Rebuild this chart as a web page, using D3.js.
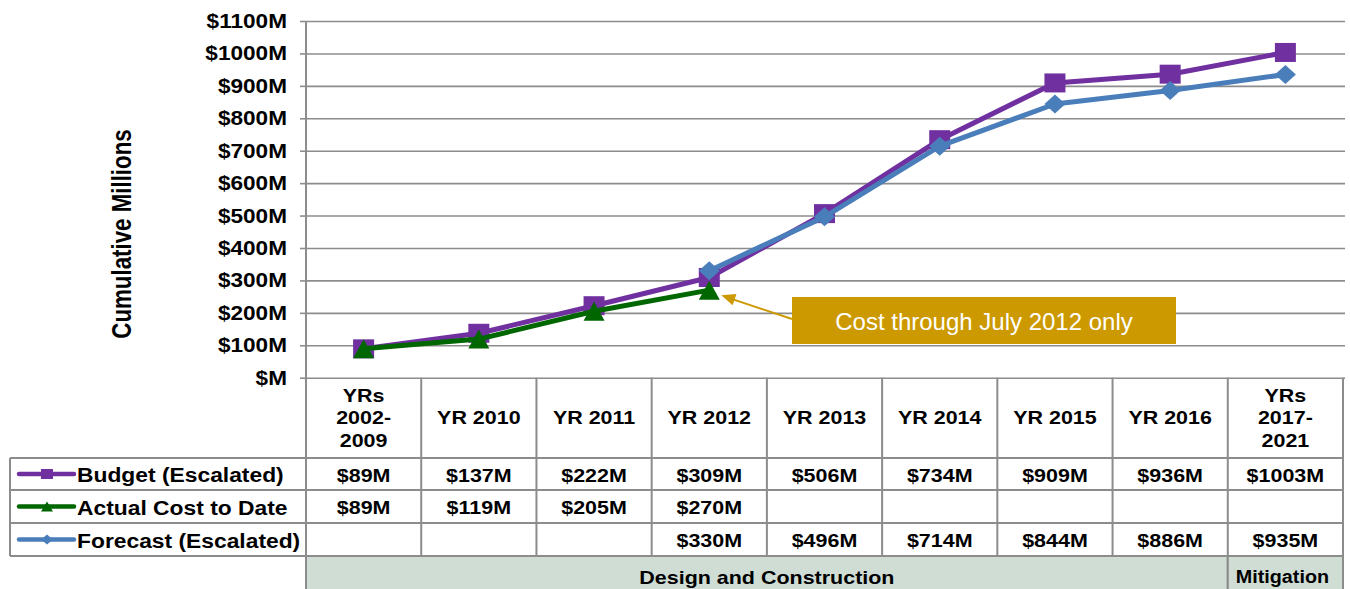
<!DOCTYPE html>
<html><head><meta charset="utf-8">
<script src="https://cdn.jsdelivr.net/npm/d3@7/dist/d3.min.js"></script>
<style>
html,body{margin:0;padding:0;background:#fff;}
svg{display:block;font-family:"Liberation Sans",Arial,sans-serif;}
</style></head>
<body>
<svg id="c" width="1350" height="589"></svg>
<script>
// ---------- data ----------
const categories = ["YRs\n2002-\n2009","YR 2010","YR 2011","YR 2012","YR 2013","YR 2014","YR 2015","YR 2016","YRs\n2017-\n2021"];
const budget   = [89,137,222,309,506,734,909,936,1003];
const actual   = [89,119,205,270,null,null,null,null,null];
const forecast = [null,null,null,330,496,714,844,886,935];
const seriesNames = ["Budget (Escalated)","Actual Cost to Date","Forecast (Escalated)"];
const yTicks = [0,100,200,300,400,500,600,700,800,900,1000,1100];
const phaseLabels = ["Design and Construction","Mitigation"];
const phaseStart = [0,8];
const phaseEnd   = [7,8];
const axisTitle = "Cumulative Millions";
const noteText = "Cost through July 2012 only";

// ---------- layout ----------
const svg = d3.select("#c");
const L = 306, R = 1343, TOP = 21, BASE = 377.7;
const headBottom = 458, rowH = [458,490,523,556], bandBottom = 600;
const legendLeft = 10;
const SX = 1.13, FS = 19;
const purple = "#7030a0", green = "#006600", blue = "#4a7ebb";
const gridCol = "#8c8c8c";

const x = d3.scaleBand().domain(d3.range(categories.length)).range([L, R]);
const y = d3.scaleLinear().domain([0,1100]).range([BASE, TOP]);
const cx = i => x(i) + x.bandwidth()/2;

function stext(g, tx, ty, str, opts={}) {
  return g.append("text")
    .attr("transform", `translate(${tx},${ty}) scale(${opts.sx ?? SX},1)`)
    .attr("text-anchor", opts.anchor || "middle")
    .attr("dominant-baseline", "central")
    .attr("font-size", opts.fs || FS)
    .attr("font-weight", opts.fw || "bold")
    .attr("fill", opts.fill || "#000")
    .text(str);
}

// band background
const band = svg.append("g");
phaseLabels.forEach((lab, k) => {
  const x0 = x(phaseStart[k]), x1 = x(phaseEnd[k]) + x.bandwidth();
  band.append("rect").attr("x", x0).attr("y", rowH[3]).attr("width", x1 - x0).attr("height", bandBottom - rowH[3])
    .attr("fill", "#cfddd5").attr("stroke", gridCol).attr("stroke-width", 2);
  stext(band, (x0 + x1)/2 - (k === 1 ? 3 : 0), 577, lab, {fs: k === 1 ? 17.5 : FS});
});

// gridlines
const gridAxis = d3.axisLeft(y).tickValues(yTicks).tickSize(-(R + 2 - L)).tickFormat("");
const gg = svg.append("g").attr("transform", `translate(${L},0)`).call(gridAxis);
gg.select(".domain").remove();
gg.selectAll("line").attr("stroke", gridCol).attr("stroke-width", 1.6);

// y axis with tick marks & labels
const yAxis = d3.axisLeft(y).tickValues(yTicks).tickSize(6).tickPadding(0).tickFormat(v => v === 0 ? "$M" : `$${v}M`);
const ya = svg.append("g").attr("transform", `translate(${L},0)`).call(yAxis);
ya.select(".domain").attr("stroke", gridCol).attr("stroke-width", 2).attr("d", `M0,${TOP}V${rowH[3]}`);
ya.selectAll(".tick line").attr("stroke", gridCol).attr("stroke-width", 1.6);
ya.selectAll(".tick text").each(function() {
  d3.select(this).attr("x", null).attr("dy", null)
    .attr("transform", `translate(-19,0) scale(${SX},1)`)
    .attr("text-anchor", "end").attr("dominant-baseline", "central")
    .attr("font-size", 20).attr("font-weight", "bold").attr("fill", "#000")
    .attr("font-family", "Liberation Sans, Arial, sans-serif");
});

// axis title
svg.append("text")
  .attr("transform", `translate(122,234) scale(1.2,1) rotate(-90)`)
  .attr("text-anchor", "middle").attr("dominant-baseline", "central")
  .attr("font-size", 22.3).attr("font-weight", "bold").text(axisTitle);

// table grid
const tbl = svg.append("g").attr("stroke", gridCol).attr("stroke-width", 2).attr("fill", "none");
d3.range(categories.length + 1).forEach(i => {
  const xx = i < categories.length ? x(i) : R;
  tbl.append("line").attr("x1", xx).attr("x2", xx).attr("y1", BASE).attr("y2", rowH[3]);
});
rowH.forEach(yy => tbl.append("line").attr("x1", legendLeft).attr("x2", R).attr("y1", yy).attr("y2", yy));
tbl.append("line").attr("x1", legendLeft).attr("x2", legendLeft).attr("y1", rowH[0]).attr("y2", rowH[3]);

// header labels
const hg = svg.append("g");
categories.forEach((c, i) => {
  const lines = c.split("\n");
  const lh = 22.5;
  const mid = (BASE + headBottom)/2;
  lines.forEach((ln, j) => stext(hg, cx(i), mid + (j - (lines.length - 1)/2) * lh, ln));
});

// legend rows and values
const allSeries = [budget, actual, forecast];
const colors = [purple, green, blue];
const shapes = ["square","triangle","diamond"];
function markerPath(shape, w, h) {
  if (shape === "square") return `M${-w/2},${-h/2}h${w}v${h}h${-w}Z`;
  if (shape === "triangle") return `M0,${-h/2}L${w/2},${h/2}L${-w/2},${h/2}Z`;
  return `M0,${-h/2}L${w/2},0L0,${h/2}L${-w/2},0Z`;
}
const lg = svg.append("g");
allSeries.forEach((s, k) => {
  const ym = (rowH[k] + rowH[k+1]) / 2;
  lg.append("line").attr("x1", 19).attr("x2", 74).attr("y1", ym).attr("y2", ym)
    .attr("stroke", colors[k]).attr("stroke-width", 4.5).attr("stroke-linecap", "round");
  lg.append("path").attr("d", markerPath(shapes[k], 12, 10)).attr("transform", `translate(47,${ym})`).attr("fill", colors[k]);
  stext(lg, 77, ym + 1, seriesNames[k], {anchor: "start", fs: 20.2});
  s.forEach((v, i) => { if (v != null) stext(lg, cx(i), ym + 1, `$${v}M`); });
});

// lines + markers
const pg = svg.append("g");
allSeries.forEach((s, k) => {
  const pts = s.map((v, i) => ({v, i})).filter(d => d.v != null);
  pg.append("path").datum(pts)
    .attr("d", d3.line().x(d => cx(d.i)).y(d => y(d.v)))
    .attr("fill", "none").attr("stroke", colors[k]).attr("stroke-width", 5).attr("stroke-linejoin", "round");
  pg.selectAll(null).data(pts).enter().append("path")
    .attr("d", markerPath(shapes[k], 21, 19))
    .attr("transform", d => `translate(${cx(d.i)},${y(d.v)})`)
    .attr("fill", colors[k]);
});

// annotation
const ag = svg.append("g");
const ax0 = 792, ax1 = 1176, ay0 = 297, ay1 = 344;
const tip = [cx(3) + 12, y(actual[3]) + 5];
ag.append("line").attr("x1", ax0).attr("y1", 319).attr("x2", tip[0] + 8).attr("y2", tip[1] + 3)
  .attr("stroke", "#cc9900").attr("stroke-width", 2);
const ang = Math.atan2(319 - tip[1], ax0 - tip[0]);
const hl = 14, hw = 6;
const bx = tip[0] + hl * Math.cos(ang), by = tip[1] + hl * Math.sin(ang);
ag.append("path").attr("d", `M${tip[0]},${tip[1]}L${bx - hw*Math.sin(ang)},${by + hw*Math.cos(ang)}L${bx + hw*Math.sin(ang)},${by - hw*Math.cos(ang)}Z`)
  .attr("fill", "#cc9900");
ag.append("rect").attr("x", ax0).attr("y", ay0).attr("width", ax1 - ax0).attr("height", ay1 - ay0).attr("fill", "#cc9900");
ag.append("text").attr("x", (ax0 + ax1)/2).attr("y", (ay0 + ay1)/2 + 1)
  .attr("text-anchor", "middle").attr("dominant-baseline", "central")
  .attr("font-size", 24).attr("fill", "#fff").text(noteText);
</script>
</body></html>
